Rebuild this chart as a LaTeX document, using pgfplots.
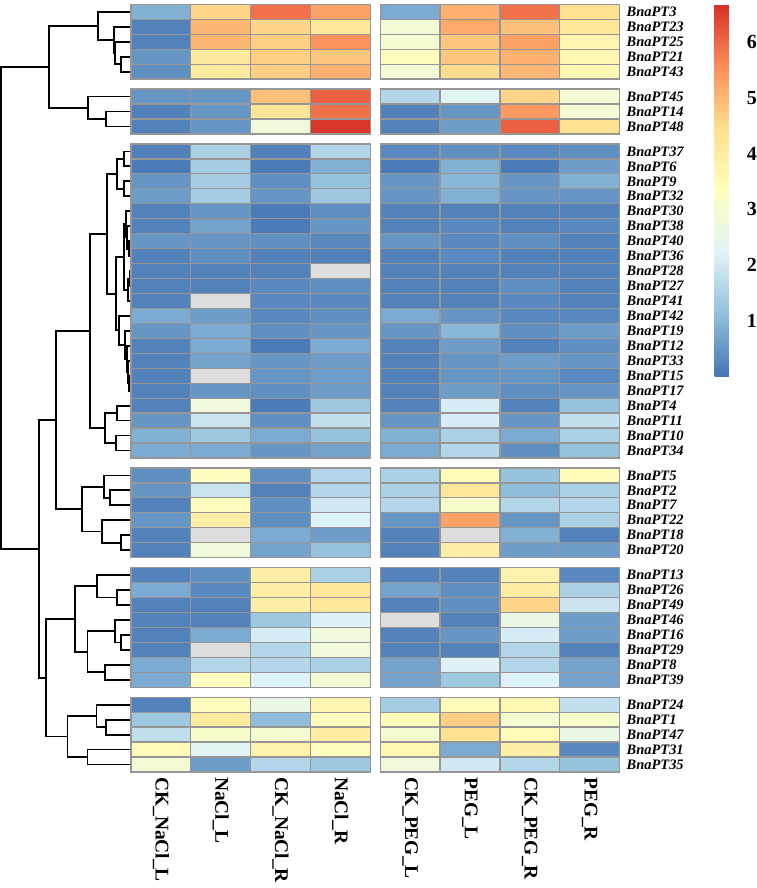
\documentclass[border=0pt]{standalone}
\usepackage{fontspec}
\setmainfont{Liberation Serif}
\usepackage{pgfplots}
\usepackage{pgfplotstable}
\pgfplotsset{compat=1.18}

\definecolor{cellgray}{RGB}{150,150,150}
\definecolor{nagray}{RGB}{221,221,221}
\pgfplotsset{colormap={rdylbu}{rgb255=(69,117,180) rgb255=(145,191,219) rgb255=(224,243,248)
  rgb255=(255,255,191) rgb255=(254,224,144) rgb255=(252,141,89) rgb255=(215,48,39)}}

% one heatmap cell = 1 x 1 axis unit = 60pt x 15pt
\pgfdeclareplotmark{cell}{%
  \pgfpathrectangle{\pgfpoint{-30pt}{-7.5pt}}{\pgfpoint{60pt}{15pt}}%
  \pgfusepathqfillstroke}

% pos = row centre (rows of 1, gaps of 2/3 between clusters); -1 = missing value
\pgfplotstableread{
gene    pos     a   b   c   d   e   f   g   h
BnaPT3  0.5     0.9 4.6 5.9 5.3 0.8 5.1 5.9 4.4
BnaPT23 1.5     0.2 5.0 4.6 4.2 2.9 5.2 4.9 4.2
BnaPT25 2.5     0.2 5.0 4.7 5.5 3.0 4.8 5.3 3.7
BnaPT21 3.5     0.5 4.1 4.7 4.8 3.4 4.8 5.1 3.6
BnaPT43 4.5     0.4 4.1 4.7 5.1 2.9 4.5 5.0 3.6
BnaPT45 6.1667  0.5 0.5 4.9 6.1 1.6 2.3 4.6 2.9
BnaPT14 7.1667  0.2 0.5 4.3 5.9 0.2 0.5 5.4 2.9
BnaPT48 8.1667  0.2 0.5 2.8 6.6 0.2 0.6 6.1 4.4
BnaPT37 9.8333  0.2 1.5 0.2 1.6 0.3 0.4 0.3 0.4
BnaPT6  10.8333 0.1 1.4 0.1 0.9 0.1 0.9 0.1 0.6
BnaPT9  11.8333 0.5 1.4 0.4 1.2 0.5 1.0 0.5 0.9
BnaPT32 12.8333 0.6 1.4 0.5 1.3 0.5 0.9 0.5 0.5
BnaPT30 13.8333 0.2 0.5 0.1 0.4 0.2 0.2 0.2 0.2
BnaPT38 14.8333 0.2 0.7 0.1 0.5 0.2 0.3 0.2 0.3
BnaPT40 15.8333 0.5 0.5 0.4 0.3 0.5 0.3 0.4 0.2
BnaPT36 16.8333 0.2 0.4 0.2 0.2 0.2 0.3 0.2 0.2
BnaPT28 17.8333 0.2 0.2 0.2 -1  0.2 0.2 0.2 0.2
BnaPT27 18.8333 0.2 0.2 0.3 0.4 0.2 0.2 0.4 0.2
BnaPT41 19.8333 0.2 -1  0.3 0.3 0.2 0.2 0.3 0.2
BnaPT42 20.8333 0.8 0.6 0.3 0.4 0.8 0.5 0.3 0.3
BnaPT19 21.8333 0.5 0.8 0.4 0.5 0.5 1.0 0.4 0.6
BnaPT12 22.8333 0.2 0.8 0.1 0.8 0.2 0.6 0.2 0.4
BnaPT33 23.8333 0.2 0.7 0.5 0.6 0.2 0.5 0.6 0.5
BnaPT15 24.8333 0.2 -1  0.5 0.6 0.2 0.5 0.5 0.3
BnaPT17 25.8333 0.2 0.5 0.4 0.6 0.2 0.6 0.4 0.5
BnaPT4  26.8333 0.2 2.8 0.1 1.3 0.2 2.1 0.2 1.2
BnaPT11 27.8333 0.5 1.9 0.4 1.8 0.5 2.1 0.5 1.8
BnaPT10 28.8333 0.9 1.3 0.8 1.2 0.9 1.5 0.8 1.5
BnaPT34 29.8333 0.8 0.8 0.5 0.7 0.8 1.6 0.4 1.2
BnaPT5  31.5    0.4 3.3 0.4 1.6 1.5 3.5 1.2 3.5
BnaPT2  32.5    0.5 1.9 0.2 1.6 1.5 4.2 1.1 1.5
BnaPT7  33.5    0.2 3.4 0.4 2.0 1.6 3.1 1.6 1.6
BnaPT22 34.5    0.5 3.9 0.4 2.2 0.5 5.3 0.5 1.5
BnaPT18 35.5    0.2 -1  0.8 0.6 0.2 -1  0.9 0.2
BnaPT20 36.5    0.2 2.8 0.7 1.2 0.2 3.9 0.6 0.6
BnaPT13 38.1667 0.2 0.4 3.9 1.5 0.2 0.2 3.8 0.3
BnaPT26 39.1667 0.8 0.3 3.9 4.2 0.7 0.4 4.0 1.5
BnaPT49 40.1667 0.2 0.2 3.9 4.2 0.2 0.4 4.6 1.9
BnaPT46 41.1667 0.2 0.2 1.3 2.2 -1  0.2 2.6 0.6
BnaPT16 42.1667 0.2 0.8 2.1 2.8 0.2 0.5 2.1 0.6
BnaPT29 43.1667 0.2 -1  1.6 2.8 0.2 0.2 1.6 0.2
BnaPT8  44.1667 0.8 1.6 1.6 1.5 0.7 2.2 1.6 0.7
BnaPT39 45.1667 0.8 3.4 2.2 2.9 0.7 1.3 2.2 0.7
BnaPT24 46.8333 0.2 3.4 2.6 3.7 1.4 3.5 3.6 1.8
BnaPT1  47.8333 1.3 4.1 1.1 3.4 3.5 4.7 3.0 3.1
BnaPT47 48.8333 1.8 3.1 3.0 4.0 3.0 4.4 3.5 2.6
BnaPT31 49.8333 3.5 2.3 3.8 3.4 3.6 0.8 3.9 0.3
BnaPT35 50.8333 2.9 0.6 1.6 1.3 2.8 2.0 1.6 1.2
}\hm

% #1 = column of \hm, #2 = x position of the cell centre
\newcommand{\cellcol}[2]{%
  \addplot[scatter, only marks, mark=cell, point meta=explicit,
    scatter/use mapped color={draw=cellgray, fill=mapped color},
    mark options={line width=1.3pt},
    restrict expr to domain={\thisrow{#1}}{0:100}]
    table[x expr=#2, y=pos, meta=#1] {\hm};
  \addplot[only marks, mark=cell,
    mark options={draw=cellgray, fill=nagray, line width=1.3pt},
    restrict expr to domain={\thisrow{#1}}{-2:-0.5}]
    table[x expr=#2, y=pos] {\hm};
}

\begin{document}
\begin{tikzpicture}
\begin{axis}[
  x=60pt, y=15pt, y dir=reverse,
  xmin=-2.1833, xmax=8.1667, ymin=0, ymax=51.3333,
  clip=false,
  axis line style={draw=none}, tick style={draw=none},
  colormap name=rdylbu, point meta min=0, point meta max=6.68,
  xtick={0.5,1.5,2.5,3.5,4.6667,5.6667,6.6667,7.6667},
  xticklabels={CK\_NaCl\_L,NaCl\_L,CK\_NaCl\_R,NaCl\_R,CK\_PEG\_L,PEG\_L,CK\_PEG\_R,PEG\_R},
  xticklabel style={rotate=-90, anchor=west, inner sep=5pt,
    font=\bfseries\fontsize{19.5}{20}\selectfont},
  ytick=data, yticklabels from table={\hm}{gene},
  yticklabel pos=right,
  yticklabel style={anchor=west, inner sep=7pt,
    font=\bfseries\itshape\fontsize{14.5}{15}\selectfont},
  dendro/.style={black, line width=1.8pt, no markers, forget plot,
    x filter/.expression={(x-133)/60}},
  colorbar,
  colorbar style={
    at={(parent axis.north east)}, anchor=north west, xshift=87pt,
    scale only axis, width=25pt, height=373pt,
    axis line style={draw=none}, tick style={draw=none},
    ytick={1,2,3,4,5,6}, yticklabels={1,2,3,4,5,6},
    yticklabel style={anchor=west, inner sep=0pt, xshift=7pt,
      font=\bfseries\fontsize{20}{20}\selectfont},
  },
]
\cellcol{a}{0.5}
\cellcol{b}{1.5}
\cellcol{c}{2.5}
\cellcol{d}{3.5}
\cellcol{e}{4.6667}
\cellcol{f}{5.6667}
\cellcol{g}{6.6667}
\cellcol{h}{7.6667}

% dendrogram: x = position of the merge in pixels of the original (leaves at 133)
\addplot[dendro] coordinates {(133,3.5) (123.3,3.5) (123.3,4.5) (133,4.5)};
\addplot[dendro] coordinates {(133,2.5) (117,2.5) (117,4.0) (123.3,4.0)};
\addplot[dendro] coordinates {(133,1.5) (115.7,1.5) (115.7,3.25) (117,3.25)};
\addplot[dendro] coordinates {(133,0.5) (100,0.5) (100,2.375) (115.7,2.375)};
\addplot[dendro] coordinates {(133,7.1667) (108.3,7.1667) (108.3,8.1667) (133,8.1667)};
\addplot[dendro] coordinates {(133,6.1667) (90,6.1667) (90,7.6667) (108.3,7.6667)};
\addplot[dendro] coordinates {(100,1.4375) (50.7,1.4375) (50.7,6.9167) (90,6.9167)};

\addplot[dendro] coordinates {(133,9.8333) (126,9.8333) (126,10.8333) (133,10.8333)};
\addplot[dendro] coordinates {(133,11.8333) (126,11.8333) (126,12.8333) (133,12.8333)};
\addplot[dendro] coordinates {(126,10.3333) (119,10.3333) (119,12.3333) (126,12.3333)};
\addplot[dendro] coordinates {(133,15.8333) (131,15.8333) (131,16.8333) (133,16.8333)};
\addplot[dendro] coordinates {(133,14.8333) (129,14.8333) (129,16.3333) (131,16.3333)};
\addplot[dendro] coordinates {(133,13.8333) (128,13.8333) (128,15.5833) (129,15.5833)};
\addplot[dendro] coordinates {(133,17.8333) (131.5,17.8333) (131.5,18.8333) (133,18.8333)};
\addplot[dendro] coordinates {(131.5,18.3333) (130,18.3333) (130,19.8333) (133,19.8333)};
\addplot[dendro] coordinates {(128,14.7083) (126,14.7083) (126,19.0833) (130,19.0833)};
\addplot[dendro] coordinates {(133,24.8333) (131,24.8333) (131,25.8333) (133,25.8333)};
\addplot[dendro] coordinates {(133,23.8333) (130,23.8333) (130,25.3333) (131,25.3333)};
\addplot[dendro] coordinates {(133,22.8333) (129,22.8333) (129,24.5833) (130,24.5833)};
\addplot[dendro] coordinates {(133,21.8333) (127,21.8333) (127,23.7083) (129,23.7083)};
\addplot[dendro] coordinates {(133,20.8333) (121,20.8333) (121,22.7708) (127,22.7708)};
\addplot[dendro] coordinates {(126,16.8958) (118.3,16.8958) (118.3,21.8021) (121,21.8021)};
\addplot[dendro] coordinates {(119,11.3333) (109.3,11.3333) (109.3,19.349) (118.3,19.349)};
\addplot[dendro] coordinates {(133,26.8333) (119,26.8333) (119,27.8333) (133,27.8333)};
\addplot[dendro] coordinates {(133,28.8333) (118.3,28.8333) (118.3,29.8333) (133,29.8333)};
\addplot[dendro] coordinates {(119,27.3333) (106.7,27.3333) (106.7,29.3333) (118.3,29.3333)};
\addplot[dendro] coordinates {(109.3,15.3412) (91.7,15.3412) (91.7,28.3333) (106.7,28.3333)};

\addplot[dendro] coordinates {(133,32.5) (111.7,32.5) (111.7,33.5) (133,33.5)};
\addplot[dendro] coordinates {(133,31.5) (106,31.5) (106,33) (111.7,33)};
\addplot[dendro] coordinates {(133,35.5) (122.7,35.5) (122.7,36.5) (133,36.5)};
\addplot[dendro] coordinates {(133,34.5) (104.3,34.5) (104.3,36) (122.7,36)};
\addplot[dendro] coordinates {(106,32.25) (84,32.25) (84,35.25) (104.3,35.25)};
\addplot[dendro] coordinates {(91.7,21.8373) (57.7,21.8373) (57.7,33.75) (84,33.75)};

\addplot[dendro] coordinates {(133,39.1667) (119,39.1667) (119,40.1667) (133,40.1667)};
\addplot[dendro] coordinates {(133,38.1667) (99,38.1667) (99,39.6667) (119,39.6667)};
\addplot[dendro] coordinates {(133,42.1667) (123.3,42.1667) (123.3,43.1667) (133,43.1667)};
\addplot[dendro] coordinates {(133,41.1667) (116.7,41.1667) (116.7,42.6667) (123.3,42.6667)};
\addplot[dendro] coordinates {(133,44.1667) (107.3,44.1667) (107.3,45.1667) (133,45.1667)};
\addplot[dendro] coordinates {(116.7,41.9167) (89.3,41.9167) (89.3,44.6667) (107.3,44.6667)};
\addplot[dendro] coordinates {(99,38.9167) (76.7,38.9167) (76.7,43.2917) (89.3,43.2917)};
\addplot[dendro] coordinates {(133,47.8333) (107.7,47.8333) (107.7,48.8333) (133,48.8333)};
\addplot[dendro] coordinates {(133,46.8333) (98.3,46.8333) (98.3,48.3333) (107.7,48.3333)};
\addplot[dendro] coordinates {(133,49.8333) (89.3,49.8333) (89.3,50.8333) (133,50.8333)};
\addplot[dendro] coordinates {(98.3,47.5833) (69.3,47.5833) (69.3,50.3333) (89.3,50.3333)};
\addplot[dendro] coordinates {(76.7,41.1042) (47.7,41.1042) (47.7,48.9583) (69.3,48.9583)};
\addplot[dendro] coordinates {(57.7,27.7936) (41,27.7936) (41,45.0313) (47.7,45.0313)};
\addplot[dendro] coordinates {(50.7,4.1771) (2.5,4.1771) (2.5,36.4124) (41,36.4124)};
\end{axis}
\end{tikzpicture}
\end{document}
